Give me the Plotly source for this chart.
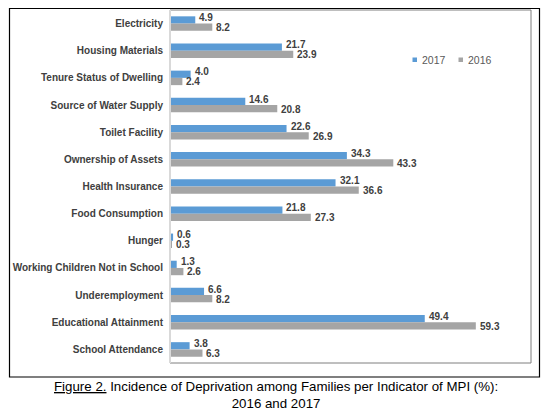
import plotly.graph_objects as go

categories = ["Electricity", "Housing Materials", "Tenure Status of Dwelling",
              "Source of Water Supply", "Toilet Facility", "Ownership of Assets",
              "Health Insurance", "Food Consumption", "Hunger",
              "Working Children Not in School", "Underemployment",
              "Educational Attainment", "School Attendance"]
values_2017 = [4.9, 21.7, 4.0, 14.6, 22.6, 34.3, 32.1, 21.8, 0.6, 1.3, 6.6, 49.4, 3.8]
values_2016 = [8.2, 23.9, 2.4, 20.8, 26.9, 43.3, 36.6, 27.3, 0.3, 2.6, 8.2, 59.3, 6.3]
series_names = ["2017", "2016"]
series_colors = ["#5B9BD5", "#A5A5A5"]

FONT = "Liberation Sans, Arial, sans-serif"
label_font = dict(family=FONT, size=10, color="#404040", weight="bold")

# page body has an 8px margin; the figure is sized/placed to compensate
OFF = 8
W, H = 550 - OFF, 411 - OFF
L, T = 170 - OFF, 10 - OFF
PW, PH = 361, 353
R = W - L - PW
B = H - T - PH


def px(x):
    return (x - OFF - L) / PW


def py(y):
    return (T + PH - (y - OFF)) / PH


fig = go.Figure()
for name, vals, col in zip(series_names, [values_2017, values_2016], series_colors):
    fig.add_trace(go.Bar(
        name=name, y=categories, x=vals, orientation="h",
        marker=dict(color=col, line=dict(width=0)),
        showlegend=False, hoverinfo="x+y+name",
    ))

annotations = []
# value labels: 2017 slightly above its bar, 2016 slightly below (as in the original)
for vals, yshift in zip([values_2017, values_2016], [6, -4]):
    for cat, v in zip(categories, vals):
        annotations.append(dict(
            x=v, y=cat, xref="x", yref="y", xanchor="left", yanchor="middle",
            xshift=2, yshift=yshift, showarrow=False, text=f"{v:.1f}",
            font=label_font))

shapes = [
    # plot area border
    dict(type="rect", xref="paper", yref="paper", x0=0, x1=1, y0=0, y1=1,
         line=dict(color="#7F7F7F", width=1), fillcolor="rgba(0,0,0,0)", layer="below"),
    dict(type="line", xref="paper", yref="paper", x0=0, x1=0, y0=0, y1=1,
         line=dict(color="#D9D9D9", width=2)),
    # outer frame
    dict(type="rect", xref="paper", yref="paper",
         x0=px(9.5), x1=px(539.5), y0=py(377), y1=(T + PH - 0.5) / PH,
         line=dict(color="black", width=1.2), fillcolor="rgba(0,0,0,0)"),
]
# legend (small squares + labels)
legend_x = [412.5, 458.5]
for lx, name, col in zip(legend_x, series_names, series_colors):
    shapes.append(dict(type="rect", xref="paper", yref="paper",
                       x0=px(lx), x1=px(lx + 4.5), y0=py(62), y1=py(57.5),
                       line=dict(width=0), fillcolor=col))
    annotations.append(dict(xref="paper", yref="paper", x=px(lx + 7), y=py(60),
                            xanchor="left", yanchor="middle", showarrow=False,
                            text=name, font=dict(family=FONT, size=10.5, color="#595959")))

annotations.append(dict(
    xref="paper", yref="paper", x=px(276), y=py(395),
    xanchor="center", yanchor="middle", showarrow=False, align="center",
    text="<u>Figure 2.</u> Incidence of Deprivation among Families per Indicator of MPI (%):<br>2016 and 2017",
    font=dict(family=FONT, size=13.3, color="black")))

fig.update_layout(
    width=W, height=H,
    margin=dict(l=L, r=R, t=T, b=B, autoexpand=False),
    paper_bgcolor="white", plot_bgcolor="white",
    barmode="group", bargap=0.466, bargroupgap=0,
    showlegend=False,
    xaxis=dict(range=[0, 70], showticklabels=False, showgrid=False, zeroline=False,
               ticks="", showline=False, fixedrange=True),
    yaxis=dict(autorange="reversed", showgrid=False, zeroline=False, ticks="",
               showline=False,
               tickfont=dict(family=FONT, size=10, color="#404040", weight="bold"),
               ticklabelstandoff=6, fixedrange=True),
    shapes=shapes,
    annotations=annotations,
)

fig.write_html("out.html")
